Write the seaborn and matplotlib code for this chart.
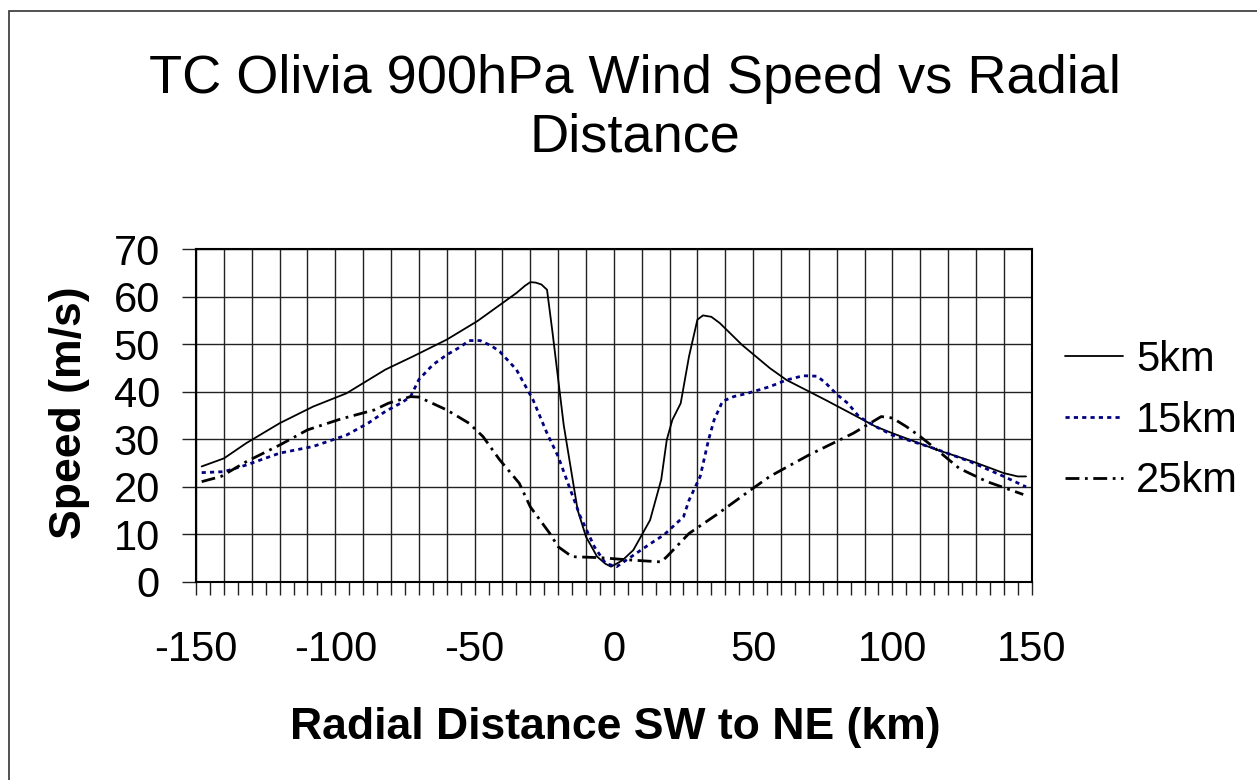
import numpy as np
import pandas as pd
import matplotlib
matplotlib.use("Agg")
import matplotlib.pyplot as plt
from matplotlib.ticker import MultipleLocator, FuncFormatter
from matplotlib.patches import Rectangle
import seaborn as sns

# Values
dist_5 = [-148, -140, -132, -120, -108, -96, -82, -72, -60, -49, -35, -32, -30, -28, -26, -24, -22,
          -18, -13, -10, -6, -3, -1, 3, 7, 13, 17, 19, 21, 24, 27, 30, 32, 35, 38, 46, 56, 62, 69,
          76, 86, 94, 100, 116, 129, 140, 145, 148]
speed_5 = [24.3, 26.0, 29.2, 33.4, 36.9, 39.7, 44.7, 47.5, 51.0, 54.9, 60.8, 62.3, 63.1, 63.0, 62.6,
           61.5, 52.4, 33.0, 15.1, 9.5, 5.3, 3.8, 3.2, 4.5, 6.7, 13.0, 21.5, 29.9, 34.1, 37.6, 47.5,
           55.2, 56.1, 55.8, 54.5, 49.9, 45.0, 42.5, 40.4, 38.3, 35.2, 32.7, 31.3, 27.8, 25.3, 22.9,
           22.2, 22.2]

dist_15 = [-148, -140, -132, -120, -108, -96, -88, -82, -76, -73, -70, -65, -60, -55, -52, -48, -44,
           -41, -35, -29, -24, -20, -16, -12, -7, -3, 1, 8, 13, 18, 25, 27, 31, 34, 36, 39, 43, 48,
           56, 62, 68, 73, 76, 80, 84, 88, 94, 100, 115, 128, 140, 148]
speed_15 = [23.0, 23.2, 24.6, 27.1, 28.5, 30.9, 33.5, 35.9, 37.8, 39.0, 42.6, 45.7, 47.8, 49.5, 50.8,
            50.8, 49.7, 48.5, 44.7, 38.3, 31.3, 26.4, 20.0, 13.7, 7.4, 3.9, 3.2, 6.0, 8.0, 9.9, 13.7,
            17.2, 22.2, 29.9, 34.1, 38.0, 39.0, 39.7, 41.1, 42.5, 43.4, 43.3, 41.9, 39.5, 37.6, 34.8,
            32.7, 30.9, 28.1, 25.3, 22.2, 20.0]

dist_25 = [-148, -141, -132, -120, -110, -98, -86, -81, -73, -70, -60, -52, -47, -41, -34, -30, -23,
           -20, -15, -5, 6, 17, 19, 27, 37, 49, 56, 70, 86, 92, 96, 100, 105, 110, 116, 124, 134, 147]
speed_25 = [21.1, 22.2, 25.3, 28.8, 32.0, 34.3, 36.2, 37.6, 39.0, 38.9, 36.2, 33.4, 30.6, 25.7, 20.8,
            15.8, 10.2, 7.4, 5.3, 5.1, 4.6, 4.2, 5.3, 10.2, 14.2, 19.3, 22.2, 26.7, 31.3, 33.4, 34.8,
            34.5, 32.7, 30.6, 27.8, 23.9, 21.1, 18.4]

levels = ["5km", "15km", "25km"]

df = pd.concat([
    pd.DataFrame({"dist": dist_5, "speed": speed_5, "level": "5km"}),
    pd.DataFrame({"dist": dist_15, "speed": speed_15, "level": "15km"}),
    pd.DataFrame({"dist": dist_25, "speed": speed_25, "level": "25km"}),
], ignore_index=True)

sns.set_theme(style="white", rc={"text.color": "black", "axes.labelcolor": "black",
                                 "xtick.color": "black", "ytick.color": "black"})
plt.rcParams["font.family"] = ["Liberation Sans", "DejaVu Sans"]

styles = {
    "5km": dict(color="black", linewidth=1.3, linestyle="-"),
    "15km": dict(color="#000080", linewidth=2.0, linestyle=(0, (1.5, 1.5))),
    "25km": dict(color="black", linewidth=2.0, linestyle=(0, (5, 2, 1, 2))),
}

fig = plt.figure(figsize=(12.57, 7.8), dpi=100)
fig.patch.set_facecolor("white")
ax = fig.add_axes([0.156, 0.254, 0.6647, 0.4263])

for lev in levels:
    sns.lineplot(data=df[df["level"] == lev], x="dist", y="speed", estimator=None, sort=False,
                 ax=ax, label=lev, **styles[lev])

ax.set_xlim(-150, 150)
ax.set_ylim(0, 70)
ax.xaxis.set_major_locator(MultipleLocator(10))
ax.xaxis.set_minor_locator(MultipleLocator(5))
ax.xaxis.set_major_formatter(FuncFormatter(lambda v, p: f"{int(round(v))}" if round(v) % 50 == 0 else ""))
ax.yaxis.set_major_locator(MultipleLocator(10))

ax.grid(True, which="major", color="#222222", linewidth=1.0)
ax.tick_params(axis="x", which="both", direction="out", length=9, width=1, color="#222222",
               bottom=True, labelsize=30, pad=26, labelcolor="black")
ax.tick_params(axis="y", which="major", direction="out", length=10, width=1, color="#222222",
               left=True, labelsize=30, pad=16, labelcolor="black")
for sp in ax.spines.values():
    sp.set_color("black")
    sp.set_linewidth(1.5)

ax.set_xlabel("Radial Distance SW to NE (km)", fontsize=32, fontweight="bold", color="black")
ax.set_ylabel("Speed (m/s)", fontsize=32, fontweight="bold", color="black")
ax.xaxis.label.set_va("center")
ax.yaxis.label.set_va("center")
ax.xaxis.set_label_coords(0.5015, -0.439)
ax.yaxis.set_label_coords(-0.152, 0.51)

fig.text(635 / 1257, 1 - 108 / 780, "TC Olivia 900hPa Wind Speed vs Radial\nDistance",
         ha="center", va="center", fontsize=39, linespacing=1.22, color="black")

leg = ax.legend(loc="center left", bbox_to_anchor=(1.02, 0.485), frameon=False, fontsize=30,
                handlelength=1.4, handletextpad=0.3, labelspacing=0.5, borderaxespad=0)
for t in leg.get_texts():
    t.set_color("black")

# outer chart border (only top/left visible in the crop)
fig.patches.append(Rectangle((9 / 1257, -0.05), 1.1, 1 - 11 / 780 + 0.05, transform=fig.transFigure,
                             fill=False, edgecolor="#333333", linewidth=1.2))

fig.savefig("out.png", dpi=100)
